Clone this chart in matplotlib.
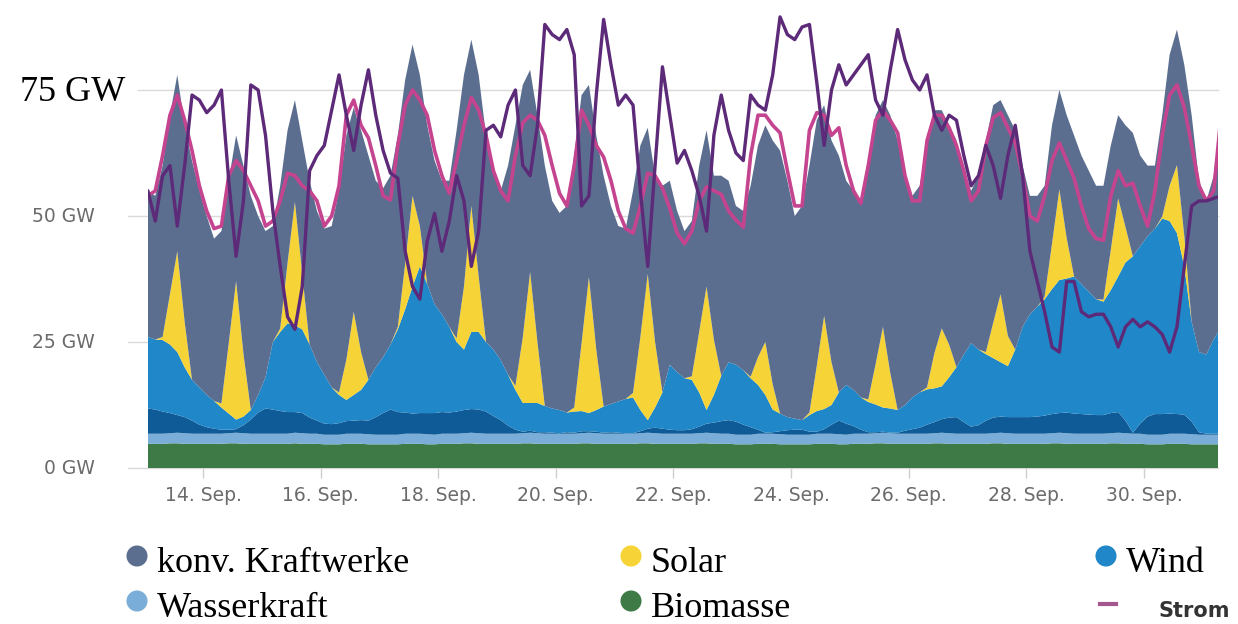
'''Stromerzeugung und Verbrauch in Deutschland, 13.09. - 01.10.2017
   gestapelte Flaechen (GW) plus zwei Linien
'''
import numpy as np
import pandas as pd
import matplotlib
matplotlib.use("Agg")
import matplotlib.pyplot as plt

# 3-Stunden-Werte ab 13.09.2017 01:30
zeit = pd.date_range("2017-09-13 01:30", periods=147, freq="3h")

biomasse = [
    4.8, 4.8, 4.8, 4.9, 4.9, 4.8, 4.8, 4.8,
    4.8, 4.8, 4.8, 4.9, 4.9, 4.8, 4.8, 4.8,
    4.8, 4.8, 4.8, 4.8, 4.9, 4.8, 4.8, 4.8,
    4.7, 4.7, 4.7, 4.8, 4.8, 4.8, 4.7, 4.7,
    4.7, 4.7, 4.7, 4.8, 4.8, 4.8, 4.7, 4.7,
    4.8, 4.8, 4.8, 4.9, 4.9, 4.8, 4.8, 4.8,
    4.8, 4.8, 4.8, 4.9, 4.9, 4.8, 4.8, 4.8,
    4.8, 4.8, 4.8, 4.9, 4.9, 4.8, 4.8, 4.8,
    4.8, 4.8, 4.8, 4.9, 4.9, 4.8, 4.8, 4.8,
    4.8, 4.8, 4.8, 4.9, 4.9, 4.8, 4.8, 4.8,
    4.7, 4.7, 4.7, 4.8, 4.8, 4.8, 4.7, 4.7,
    4.7, 4.7, 4.7, 4.8, 4.8, 4.8, 4.7, 4.7,
    4.8, 4.8, 4.8, 4.9, 4.9, 4.8, 4.8, 4.8,
    4.8, 4.8, 4.8, 4.9, 4.9, 4.8, 4.8, 4.8,
    4.8, 4.8, 4.8, 4.9, 4.9, 4.8, 4.8, 4.8,
    4.8, 4.8, 4.8, 4.9, 4.9, 4.8, 4.8, 4.8,
    4.8, 4.8, 4.8, 4.9, 4.9, 4.8, 4.8, 4.8,
    4.7, 4.7, 4.7, 4.8, 4.8, 4.8, 4.7, 4.7,
    4.7, 4.7, 4.7,
]

wasserkraft = [
    2.0, 2.0, 2.0, 2.0, 2.1, 2.1, 2.0, 2.0,
    2.0, 2.0, 2.0, 2.0, 2.1, 2.1, 2.0, 2.0,
    2.0, 2.0, 2.0, 2.0, 2.1, 2.1, 2.0, 2.0,
    1.9, 1.9, 1.9, 2.0, 2.0, 2.0, 2.0, 1.9,
    1.9, 1.9, 1.9, 2.0, 2.0, 2.0, 2.0, 1.9,
    2.0, 2.0, 2.0, 2.0, 2.1, 2.1, 2.0, 2.0,
    2.0, 2.0, 2.0, 2.0, 2.1, 2.1, 2.0, 2.0,
    2.0, 2.0, 2.0, 2.0, 2.1, 2.1, 2.0, 2.0,
    2.0, 2.0, 2.0, 2.0, 2.1, 2.1, 2.0, 2.0,
    2.0, 2.0, 2.0, 2.0, 2.1, 2.1, 2.0, 2.0,
    1.9, 1.9, 1.9, 2.0, 2.0, 2.0, 2.0, 1.9,
    1.9, 1.9, 1.9, 2.0, 2.0, 2.0, 2.0, 1.9,
    2.0, 2.0, 2.0, 2.0, 2.1, 2.1, 2.0, 2.0,
    2.0, 2.0, 2.0, 2.0, 2.1, 2.1, 2.0, 2.0,
    2.0, 2.0, 2.0, 2.0, 2.1, 2.1, 2.0, 2.0,
    2.0, 2.0, 2.0, 2.0, 2.1, 2.1, 2.0, 2.0,
    2.0, 2.0, 2.0, 2.0, 2.1, 2.1, 2.0, 2.0,
    1.9, 1.9, 1.9, 2.0, 2.0, 2.0, 2.0, 1.9,
    1.9, 1.9, 1.9,
]

wind_offshore = [
    5.0, 4.8, 4.4, 4.0, 3.5, 3.2, 2.6, 1.8,
    1.3, 1.0, 0.8, 0.7, 0.7, 1.6, 2.8, 4.2,
    5.0, 4.8, 4.5, 4.3, 4.1, 4.0, 3.2, 2.6,
    2.2, 2.1, 2.3, 2.5, 2.6, 2.7, 2.7, 3.5,
    4.3, 5.0, 4.5, 4.2, 4.0, 4.1, 4.2, 4.3,
    4.3, 4.2, 4.4, 4.6, 4.7, 4.7, 4.4, 3.5,
    2.7, 1.6, 0.8, 0.3, 0.4, 0.2, 0.3, 0.2,
    0.1, 0.3, 0.2, 0.4, 0.3, 0.3, 0.2, 0.3,
    0.2, 0.1, 0.1, 0.4, 0.8, 1.1, 1.0, 0.8,
    0.7, 0.7, 0.9, 1.3, 1.8, 2.1, 2.5, 2.7,
    2.6, 2.0, 1.5, 0.8, 0.2, 0.3, 0.6, 0.9,
    1.0, 1.0, 0.6, 0.4, 0.9, 1.8, 2.7, 2.2,
    1.5, 0.8, 0.3, 0.2, 0.2, 0.1, 0.2, 0.6,
    0.9, 1.2, 1.8, 2.2, 2.7, 3.1, 3.3, 2.3,
    1.4, 1.7, 2.6, 3.1, 3.2, 3.2, 3.3, 3.3,
    3.3, 3.4, 3.6, 3.8, 3.9, 4.1, 4.0, 3.9,
    3.8, 3.7, 3.7, 4.0, 4.1, 2.5, 0.2, 2.0,
    3.6, 4.1, 4.1, 4.0, 3.9, 3.8, 2.5, 0.5,
    0.2, 0.2, 0.2,
]

# Oberkante der Windflaeche (GW)
wind_kante = [
    26, 25.5, 25.4, 24.5, 23, 20, 17.5, 16,
    14.5, 13.3, 12, 10.8, 9.6, 10.2, 11.5, 14.5,
    18, 25, 27, 28.7, 28.3, 27.5, 24.5, 21,
    18.5, 16, 14.5, 13.5, 14.5, 15.5, 17.5, 20,
    22, 24.5, 27.5, 31.5, 36, 40, 36.5, 32.5,
    30.5, 28, 25, 23.5, 27, 27, 25, 23.5,
    21.4, 18.5, 15.5, 12.9, 12.9, 12.9, 12.3, 11.8,
    11.5, 11, 11.2, 11.3, 10.9, 11.5, 12.2, 12.7,
    13.2, 13.7, 14, 11.5, 9.5, 12, 15, 20.5,
    19, 17.8, 17.5, 15, 11.5, 14.5, 18.3, 21,
    20.5, 19.4, 17.8, 16.5, 14.5, 11.6, 10.8, 10.1,
    9.8, 9.5, 10.5, 11.3, 11.7, 12.5, 15, 16.5,
    15.5, 14, 13.1, 12.6, 12, 11.8, 11.5, 12.5,
    14, 15, 15.6, 15.8, 16.2, 18, 20, 22.5,
    24.8, 23.5, 22.6, 21.8, 21, 20.2, 23.5, 28,
    30.5, 32, 33.5, 35.5, 37.3, 37.6, 38, 36.5,
    35, 33.5, 33, 35.3, 38, 40.8, 42, 44,
    46, 47.5, 49.5, 49, 46.6, 40, 29, 23,
    22.5, 25.5, 28,
]

solar = [
    0, 0, 0.6, 10, 20, 9, 0, 0,
    0, 0, 0.8, 14, 27.5, 12.5, 0, 0,
    0, 0, 0.7, 12, 24.5, 11, 0, 0,
    0, 0, 0.5, 8, 16.5, 7.5, 0, 0,
    0, 0, 0.5, 9, 18, 8, 0, 0,
    0, 0, 0.7, 12.5, 25, 11, 0, 0,
    0, 0, 0.8, 13, 26, 12, 0, 0,
    0, 0, 0.8, 13.5, 27, 12, 0, 0,
    0, 0, 0.9, 14.5, 29, 13, 0, 0,
    0, 0, 0.7, 12, 24.5, 11, 0, 0,
    0, 0, 0.3, 5.5, 10.5, 5, 0, 0,
    0, 0, 0.5, 9, 18.5, 8.5, 0, 0,
    0, 0, 0.5, 8, 16, 7, 0, 0,
    0, 0, 0.4, 7, 11.5, 6.5, 0, 0,
    0, 0, 0.4, 7, 13.5, 6, 0, 0,
    0, 0, 0.5, 9, 18, 8, 0, 0,
    0, 0, 0.4, 8, 15.5, 7, 0, 0,
    0, 0, 0.4, 7, 13.5, 6, 0, 0,
    0, 0, 0,
]

# Gesamterzeugung = Oberkante konv. Kraftwerke (GW)
gesamt = [
    55, 54, 60, 70, 78, 68, 61, 55,
    50, 45.5, 47, 57, 66, 60, 54, 50,
    47, 48, 56, 67, 73, 65, 57, 51,
    47.5, 48, 55, 66, 71.5, 67, 62, 57,
    55.5, 58, 66, 77, 84, 78, 68, 61,
    57, 57, 67, 78, 85, 78, 66, 59,
    55, 60, 68, 76, 79, 70, 60, 53,
    50.6, 52, 62, 74, 76, 66, 58, 52,
    48, 47.5, 55, 64, 67.5, 58, 56, 57,
    51, 47, 49, 60, 67, 58, 58, 57,
    52, 51, 56, 64, 68, 65, 63, 57,
    50, 52, 60, 69, 72, 65, 62, 57,
    55, 53, 60, 70, 73, 70, 65, 58,
    54, 56, 64, 71, 71, 68, 65, 59,
    55, 58, 65, 72, 73, 70, 67, 60,
    54, 54, 56, 68, 75, 70, 66, 62,
    59, 56, 56, 64, 70, 68, 66.5, 62,
    60, 60, 70, 82, 87, 80, 70, 57,
    53, 58, 70,
]

verbrauch = [
    54, 55, 62, 70, 74, 69, 63, 56,
    51, 47.5, 48, 58, 61, 59, 56, 53,
    48, 49, 53, 58.5, 58, 56, 55, 53,
    48, 50, 56, 70, 73, 68, 65.5, 60,
    54, 53.2, 64, 72, 75, 73, 70, 63,
    58, 54.5, 61, 68, 73.5, 71, 66, 59,
    55, 53, 62, 68.5, 70, 69, 66, 60,
    54.5, 52, 60, 71, 68, 64, 61.7, 57,
    51, 47.5, 46.6, 52, 58.5, 58, 55.5, 51.5,
    46.6, 44.5, 47, 53, 55.8, 55, 54.3, 51,
    49.2, 47.8, 62, 70, 70, 68, 66.5, 59,
    52, 52, 67, 70.5, 70, 66, 67.5, 60,
    55, 52.5, 60, 69, 71, 69, 66.5, 58,
    53, 53, 65, 70, 70, 67.5, 64, 59,
    53, 55, 64, 69.5, 70.5, 67.5, 64.5, 58,
    50, 49, 54, 61, 64.5, 61, 57.5, 52,
    47.5, 45.5, 45.2, 54, 59, 56, 56.5, 52,
    48, 55, 66, 74, 76, 71.5, 64, 56,
    53, 55, 70,
]

preis = [
    55, 49, 58, 60, 48, 60, 74, 73,
    70.5, 72, 75, 57, 42, 53, 76, 75,
    66, 51, 40, 30, 27.5, 36, 59, 62,
    64, 71, 78, 70, 63, 72, 79, 70,
    63, 58.5, 57.5, 43, 36, 33.5, 45, 50.5,
    43, 49, 58, 53, 40, 47, 67, 68,
    65.7, 72, 75, 60, 58, 68, 88, 86,
    85, 87, 82, 52, 54, 74, 89, 80,
    72, 74, 72, 55, 40, 60, 79.6, 70,
    60.5, 63, 59, 54, 47, 66, 74, 67,
    62.5, 61, 74, 72, 71, 78, 89.5, 86,
    85, 87.5, 88, 76.5, 64, 75, 80, 76,
    78, 80, 82, 73, 70, 79, 87, 81,
    77, 75, 78, 70, 67, 70, 69, 62,
    56, 58, 64, 60, 53.5, 62, 68, 58,
    43, 37, 31, 24, 23, 37, 37, 31,
    30, 30.5, 30.5, 28, 24, 28, 29.5, 28,
    29, 28, 26.5, 23, 28, 40, 52, 53,
    53, 53.5, 54,
]

x_ticks = ["2017-09-14", "2017-09-16", "2017-09-18", "2017-09-20", "2017-09-22",
           "2017-09-24", "2017-09-26", "2017-09-28", "2017-09-30"]
x_labels = ["14. Sep.", "16. Sep.", "18. Sep.", "20. Sep.", "22. Sep.",
            "24. Sep.", "26. Sep.", "28. Sep.", "30. Sep."]
y_ticks = [0, 25, 50]
y_labels = ["0 GW", "25 GW", "50 GW"]

legende = ["konv. Kraftwerke", "Solar", "Wind", "Wasserkraft", "Biomasse"]

farben = {
    "Biomasse": "#3d7a46",
    "Wasserkraft": "#7aaed8",
    "Offshore": "#0f5b97",
    "Wind": "#2087c8",
    "Solar": "#f6d336",
    "konv. Kraftwerke": "#5b6e8f",
}

bio = np.array(biomasse)
wasser = np.array(wasserkraft)
off = np.array(wind_offshore)
kante = np.array(wind_kante)
sol = np.array(solar)
wind = np.clip(kante - bio - wasser - off, 0, None)
konv = np.clip(np.array(gesamt) - kante - sol, 0, None)

W, H = 1238, 624
fig = plt.figure(figsize=(W / 100, H / 100), dpi=100)
fig.patch.set_facecolor("white")

left, right, bottom = 147.9, 1218, 468
ax = fig.add_axes([left / W, (H - bottom) / H, (right - left) / W, bottom / H])
ax.set_facecolor("none")

ax.stackplot(zeit, bio, wasser, off, wind, sol, konv,
             colors=[farben["Biomasse"], farben["Wasserkraft"], farben["Offshore"],
                     farben["Wind"], farben["Solar"], farben["konv. Kraftwerke"]],
             linewidth=0.4, zorder=2)

ax.plot(zeit, verbrauch, color="#c4448f", lw=2.6, zorder=3,
        solid_joinstyle="round", solid_capstyle="round")
ax.plot(zeit, preis, color="#5c2a78", lw=2.4, zorder=4,
        solid_joinstyle="round", solid_capstyle="round")

ax.set_ylim(0, bottom / 5.04)
ax.set_xlim(zeit[0], pd.Timestamp("2017-10-01 06:15"))

for s in ax.spines.values():
    s.set_visible(False)

# Gitterlinien, ragen links aus der Flaeche heraus
grid_x0 = (128 - left) / (right - left)
for v in y_ticks:
    ax.axhline(v, xmin=grid_x0, xmax=1, color="#dadada", lw=1, zorder=0, clip_on=False)
ax.axhline(75, xmin=(138 - left) / (right - left), xmax=1, color="#dadada", lw=1,
           zorder=0, clip_on=False)

ax.set_yticks([])
lab_x = (95 - left) / (right - left)
for v, lab in zip(y_ticks, y_labels):
    ax.text(lab_x, v, lab, transform=ax.get_yaxis_transform(), ha="right",
            va="center", fontsize=13.5, color="#6b6b6b", family="DejaVu Sans")

ax.set_xticks([pd.Timestamp(t) for t in x_ticks])
ax.set_xticklabels(x_labels)
ax.tick_params(axis="x", length=7.2, width=1, color="#cfcfcf", pad=6,
               labelcolor="#6b6b6b", labelsize=13.5)

# Ebene fuer Legende und die grosse 75-GW-Beschriftung (Pixelkoordinaten)
lay = fig.add_axes([0, 0, 1, 1], zorder=5)
lay.set_xlim(0, W)
lay.set_ylim(H, 0)
lay.axis("off")

lay.text(20, 101, "75 GW", fontsize=26, family="Liberation Serif", color="black",
         ha="left", va="baseline")

pos = [(137, 556), (631, 556), (1106, 556), (137, 601), (631, 601)]
for name, (px, py) in zip(legende, pos):
    lay.scatter([px], [py], s=230, color=farben[name], edgecolors="none")
    lay.text(px + 20, py + 16, name, fontsize=26, family="Liberation Serif",
             color="black", ha="left", va="baseline")

lay.plot([1100, 1116], [604, 604], color="#a4578f", lw=3)
lay.text(1158, 617, "Strom", fontsize=15, fontweight="bold", family="DejaVu Sans",
         color="#333333", ha="left", va="baseline")

fig.savefig("out.png", dpi=100, facecolor="white")
